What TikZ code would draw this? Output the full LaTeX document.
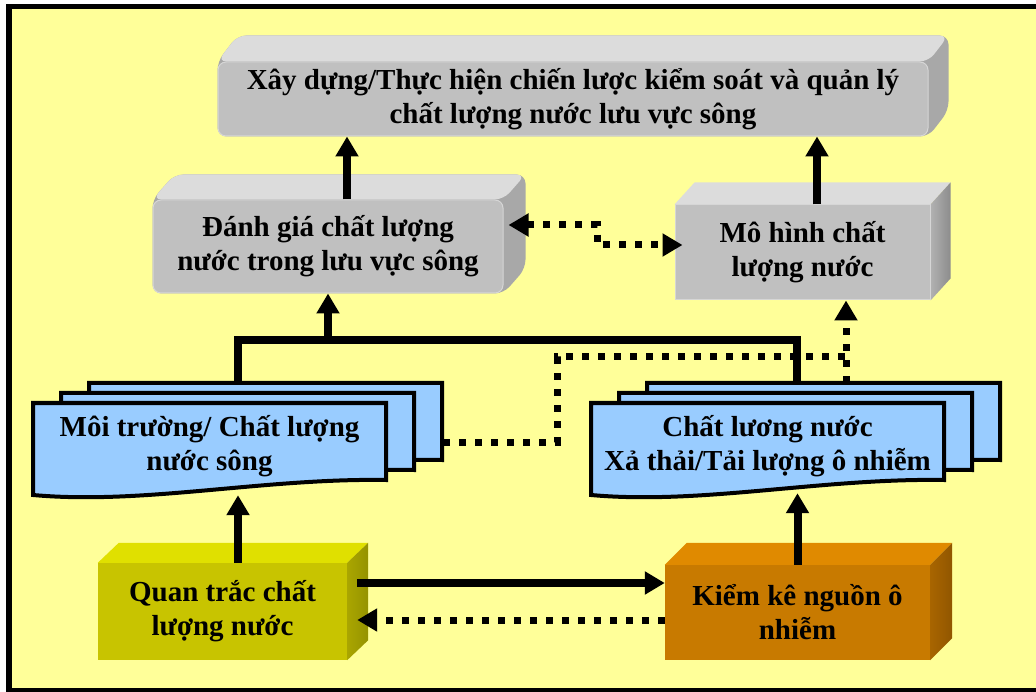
\documentclass[tikz,border=0pt]{standalone}
\usepackage{fontspec}
\setmainfont{Liberation Serif}
\usetikzlibrary{arrows.meta,calc}
\pgfdeclarelayer{paper}
\pgfdeclarelayer{bg}
\pgfsetlayers{paper,bg,main}

\definecolor{paper}{HTML}{FFFF99}
\definecolor{grayfront}{HTML}{C0C0C0}
\definecolor{graytop}{HTML}{DCDCDC}
\definecolor{grayside}{HTML}{A8A8A8}
\definecolor{graysideL}{HTML}{B2B2B2}
\definecolor{graysideD}{HTML}{8C8C8C}
\definecolor{docblue}{HTML}{99CCFF}
\definecolor{olivefront}{HTML}{C8C400}
\definecolor{olivetop}{HTML}{E0E000}
\definecolor{olivesideL}{HTML}{AAA600}
\definecolor{olivesideD}{HTML}{959200}
\definecolor{amberfront}{HTML}{C87A00}
\definecolor{ambertop}{HTML}{E08A00}
\definecolor{ambersideL}{HTML}{A86500}
\definecolor{ambersideD}{HTML}{915600}

\tikzset{
  face/.style={inner sep=0pt, align=center, text=black,
    font=\fontsize{29}{34}\selectfont\bfseries},
  graybox/.style={face, fill=grayfront, draw=white!35!grayfront, line width=1pt},
  docpage/.style={fill=docblue, draw=black, line width=4pt, line join=miter},
  line/.style={line width=8pt, line join=miter},
  link/.style={line, -{Triangle[length=20pt,width=22pt]}},
  dotline/.style={line width=7pt, dash pattern=on 7pt off 9pt},
  dotlink/.style={dotline, -{Triangle[length=20pt,width=22pt]}},
}

% rounded gray block: silhouette, bevelled top, then the front node on top
\newcommand\roundblock[3]{%
  \begin{pgfonlayer}{bg}
    \fill[grayside, rounded corners=9pt] (#1.south west) -- (#1.north west)
      -- ++(#2pt,#3pt) -- ([shift={(#2pt,#3pt)}]#1.north east)
      -- ([shift={(#2pt,#3pt)}]#1.south east) -- (#1.south east) -- cycle;
    \fill[graytop, rounded corners=9pt] (#1.north west) -- ++(#2pt,#3pt)
      -- ([shift={(#2pt,#3pt)}]#1.north east) -- (#1.north east) -- cycle;
  \end{pgfonlayer}}

% sharp cuboid: top face and shaded side face behind the front node
\newcommand\cuboid[4]{%
  \begin{pgfonlayer}{bg}
    \fill[#4top] (#1.north west) -- ++(#2pt,#3pt)
      -- ([shift={(#2pt,#3pt)}]#1.north east) -- (#1.north east) -- cycle;
    \shade[left color=#4sideL, right color=#4sideD] (#1.north east) -- ++(#2pt,#3pt)
      -- ([shift={(#2pt,#3pt)}]#1.south east) -- (#1.south east) -- cycle;
  \end{pgfonlayer}}

% one sheet of a document stack, wavy bottom edge
\newcommand\docsheet[2]{%
  \filldraw[docpage] (#1,#2) -- ++(353,0) -- ++(0,77)
    .. controls +(-123,-2) and +(110,10) .. (#1,{#2+92}) -- cycle;}

\begin{document}
\begin{tikzpicture}[x=1pt,y=-1pt]
\useasboundingbox (0,0) rectangle (1036,692);
\clip (0,0) rectangle (1036,692);

% frame
\begin{pgfonlayer}{paper}
\fill[paper] (6,4) rectangle (1036,692);
\draw[line width=5.5pt] (1036,6.5) -- (9,6.5) -- (9,691) -- (1036,691);
\end{pgfonlayer}

% strategy block
\node[graybox, rounded corners=8pt, minimum width=710pt, minimum height=74pt]
  (top) at (573,99) {Xây dựng/Thực hiện chiến lược kiểm soát và quản lý\\chất lượng nước lưu vực sông};
\roundblock{top}{20}{26}

% assessment block
\node[graybox, rounded corners=8pt, minimum width=350pt, minimum height=93pt]
  (danhgia) at (328,246.5) {Đánh giá chất lượng\\nước trong lưu vực sông};
\roundblock{danhgia}{22}{25}

% model block
\node[graybox, minimum width=255pt, minimum height=95pt]
  (mohinh) at (802.5,252.5) {Mô hình chất\\lượng nước};
\cuboid{mohinh}{20}{22}{gray}

% monitoring block
\node[face, fill=olivefront, minimum width=249pt, minimum height=97pt]
  (quan) at (222.5,611.5) {Quan trắc chất\\lượng nước};
\cuboid{quan}{21}{20}{olive}

% inventory block
\node[face, fill=amberfront, minimum width=265pt, minimum height=95pt]
  (kiem) at (797.5,612.5) {Kiểm kê nguồn ô\\nhiễm};
\cuboid{kiem}{22}{22}{amber}

% document stacks
\docsheet{89}{383}
\docsheet{61}{393}
\docsheet{33}{403}
\docsheet{647}{383}
\docsheet{619}{393}
\docsheet{591}{403}
\node[face, minimum width=353pt, minimum height=86pt]
  (docL) at (209.5,446) {Môi trường/ Chất lượng\\nước sông};
\node[face, minimum width=353pt, minimum height=86pt]
  (docR) at (767.5,446) {Chất lương nước\\Xả thải/Tải lượng ô nhiễm};

% upward links into the strategy block
\draw[link] ($(danhgia.north)+(19,0)$) -- ($(danhgia.north |- top.south)+(19,0)$);
\draw[link] ($(mohinh.north)+(14.5,0)$) -- ($(mohinh.north |- top.south)+(14.5,0)$);

% two-way dotted link between assessment and model
\draw[dotline, {Triangle[length=20pt,width=22pt]}-{Triangle[length=20pt,width=22pt]}]
  ($(danhgia.east)+(5,-21.5)$) -- ++(89,0) |- ($(mohinh.west)+(8,-7.5)$);

% solid bracket joining both stacks into the assessment
\coordinate (bar) at (328,340);
\draw[line] ($(docL.north)+(28.5,-20)$) |- (bar) -| ($(docR.north)+(29.5,-20)$);
\draw[link] (bar) -- (bar |- danhgia.south);

% dotted route from both stacks into the model
\coordinate (dotbend) at (846,357);
\draw[dotline] ($(docL.east)+(57,-4)$) -| ($(dotbend)+(-289,0)$) -- (dotbend);
\draw[dotlink] ($(docR.north)+(78.5,-20)$) -- (dotbend |- mohinh.south);

% data flows up into the stacks
\draw[link] ($(quan.north)+(15.5,0)$) -- ($(quan.north |- docL.south)+(15.5,6)$);
\draw[link] (kiem.north) -- ($(kiem.north |- docR.south)+(0,4)$);

% links between monitoring and inventory
\coordinate (qk) at ($(quan.east)+(10,-28.5)$);
\draw[link] (qk) -- (qk -| kiem.west);
\coordinate (kq) at ($(kiem.west)+(0,7.5)$);
\draw[dotlink] (kq) -- ($(kq -| quan.east)+(10,0)$);
\end{tikzpicture}
\end{document}
